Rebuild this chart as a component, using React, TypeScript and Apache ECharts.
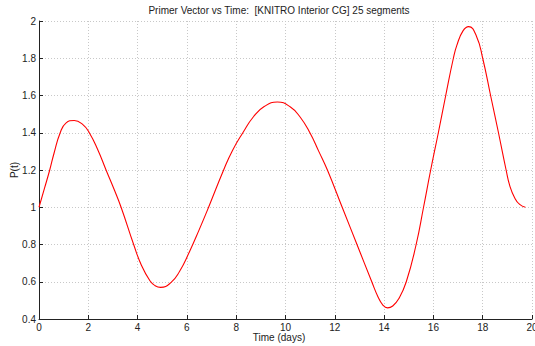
import React, { useEffect, useRef } from "react";
import * as echarts from "echarts";

const titleText = "Primer Vector vs Time:  [KNITRO Interior CG] 25 segments";
const xName = "Time (days)";
const yName = "P(t)";

const timeDays = [
  0, 0.23, 0.435, 0.61, 0.86, 1.09, 1.43, 1.77, 2.04, 2.38, 2.72, 3.05, 3.33, 3.84, 4.15,
  4.5, 4.7, 4.93, 5.35, 5.7, 6.1, 6.5, 6.88, 7.49, 7.85, 8.27, 8.7, 9.15, 9.67, 10.2, 10.6,
  10.99, 11.35, 11.7, 12.3, 12.9, 13.5, 13.75, 13.95, 14.14, 14.35, 14.6, 14.9, 15.3,
  15.6, 15.89, 16.2, 16.5, 16.81, 16.95, 17.2, 17.43, 17.75, 18.0, 18.32, 18.64, 18.95,
  19.1, 19.3, 19.5, 19.73,
];
const primerMag = [
  1.0, 1.105, 1.2, 1.29, 1.4, 1.452, 1.466, 1.445, 1.4, 1.31, 1.2, 1.095, 1.0, 0.8, 0.69,
  0.605, 0.58, 0.57, 0.595, 0.655, 0.76, 0.88, 1.0, 1.2, 1.305, 1.4, 1.486, 1.542, 1.565, 1.538,
  1.483, 1.4, 1.3, 1.2, 1.0, 0.8, 0.6, 0.52, 0.475, 0.46, 0.47, 0.51, 0.6, 0.8,
  1.0, 1.2, 1.4, 1.6, 1.8, 1.869, 1.947, 1.97, 1.917, 1.8, 1.6, 1.4, 1.2,
  1.115, 1.05, 1.015, 1.0,
];

export default function App() {
  const ref = useRef<HTMLDivElement>(null);
  useEffect(() => {
    if (!ref.current) return;
    const chart = echarts.init(ref.current, undefined, { renderer: "svg" });
    const font = "'Liberation Sans', Arial, Helvetica, sans-serif";
    const txt = "#222";
    const data = timeDays.map((t, i) => [t, primerMag[i]]);
    chart.setOption({
      animation: false,
      backgroundColor: "#ffffff",
      textStyle: { fontFamily: font },
      graphic: [
        {
          type: "text",
          x: 279,
          y: 10,
          style: {
            text: titleText,
            x: 0,
            y: 0,
            align: "center",
            verticalAlign: "middle",
            fontSize: 10,
            fontFamily: font,
            fill: txt,
          },
        },
      ],
      grid: {
        left: 39,
        right: 3,
        top: 21,
        bottom: 27,
        containLabel: false,
        outerBoundsMode: "none",
      },
      xAxis: {
        type: "value",
        min: 0,
        max: 20,
        interval: 2,
        name: xName,
        nameLocation: "middle",
        nameGap: 13,
        nameMoveOverlap: false,
        nameTextStyle: { fontSize: 10, color: txt, fontFamily: font, padding: [0, 13, 0, 0] },
        axisLine: { show: true, lineStyle: { color: txt, width: 1 } },
        axisTick: { show: true, inside: true, length: 4, lineStyle: { color: txt } },
        axisLabel: { margin: 3, fontSize: 10, color: txt, fontFamily: font },
        splitLine: { show: true, lineStyle: { color: "#c8c8c8", type: [1, 2], width: 1 } },
      },
      yAxis: {
        type: "value",
        min: 0.4,
        max: 2,
        interval: 0.2,
        name: yName,
        nameLocation: "middle",
        nameGap: 20,
        nameMoveOverlap: false,
        nameTextStyle: { fontSize: 10, color: txt, fontFamily: font },
        axisLine: { show: true, lineStyle: { color: txt, width: 1 } },
        axisTick: { show: true, inside: true, length: 4, lineStyle: { color: txt } },
        axisLabel: {
          margin: 3,
          fontSize: 10,
          color: txt,
          fontFamily: font,
          formatter: (v: number) => String(+v.toFixed(1)),
        },
        splitLine: { show: true, lineStyle: { color: "#c8c8c8", type: [1, 2], width: 1 } },
      },
      series: [
        {
          type: "line",
          data,
          smooth: 0.5,
          showSymbol: false,
          lineStyle: { color: "#ff0000", width: 1.1 },
        },
      ],
    });
    return () => chart.dispose();
  }, []);
  return (
    <div
      ref={ref}
      style={{ position: "fixed", left: 0, top: 0, width: 535, height: 346, background: "#fff" }}
    />
  );
}
